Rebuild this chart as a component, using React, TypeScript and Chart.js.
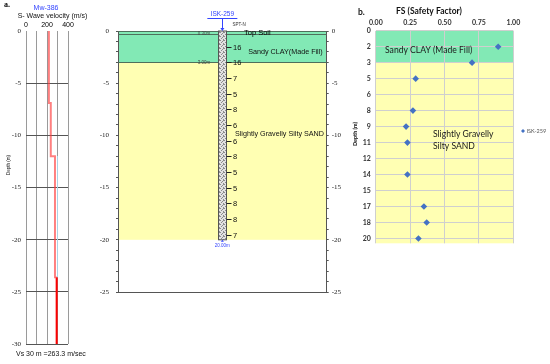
import React, { useEffect, useRef } from 'react';
import { Chart, registerables } from 'chart.js';

Chart.register(...registerables);

// ---------- Panel a: shear-wave velocity profile (Mw-386)
const vsWellName = 'Mw-386';
const vsAxisTitle = 'S- Wave velocity (m/s)';
const vsDepthTitle = 'Depth (m)';
const vs30Label = 'Vs 30 m =263.3 m/sec';
const vsLayerTop = [0, -6.9, -12.0, -23.6];
const vsLayerBottom = [-6.9, -12.0, -23.6, -30];
const vsLayerValue = [218, 236, 276, 292];
const vsAltTop = [-12.0];
const vsAltBottom = [-23.6];
const vsAltValue = [300];
const vsAxisLabels = [0, 200, 400];

// ---------- Borehole log ISK-259
const boreholeName = 'ISK-259';
const boreholeDepth = 20;
const logLayerName = ['Top Soil', 'Sandy CLAY(Made Fill)', 'Slightly Gravelly Silty SAND'];
const logLayerTop = [0, 0.3, 3.0];
const logLayerBottom = [0.3, 3.0, 20.0];
const logLayerLabelDepth = [0.2, 2.0, 9.9];
const logBoundaryLabels = ['0.30m', '3.00m'];
const logBoundaryDepth = [0.3, 3.0];
const sptDepth = [1.5, 3, 4.5, 6, 7.5, 9, 10.5, 12, 13.5, 15, 16.5, 18, 19.5];
const sptN = [16, 16, 7, 5, 8, 6, 6, 8, 5, 5, 8, 8, 7];

// ---------- Panel b: factor of safety
const fsTitle = 'FS (Safety Factor)';
const fsDepthTitle = 'Depth (m)';
const fsSeriesName = 'ISK-259';
const fsDepthLabels = ['0', '2', '3', '5', '6', '8', '9', '11', '12', '14', '15', '17', '18', '20'];
const fsValues = [null, 0.89, 0.7, 0.29, null, 0.27, 0.22, 0.23, null, 0.23, null, 0.35, 0.37, 0.31];
const fsLayerLines = [['Sandy CLAY (Made Fill)'], ['Slightly Gravelly', 'Silty SAND']];
const fsLayerTop = ['0', '3'];
const fsLayerBottom = ['3', null];

// ---------- styles
const GREEN = '#82E9B5';
const YELLOW = '#FFFFB3';
const SANS = '"Liberation Sans", Arial, sans-serif';
const SERIF = '"Liberation Serif", "Times New Roman", serif';
const CAL = 'Lato, "Open Sans", sans-serif';
const BLUE = '#3344ff';

function stepPoints(tops: number[], bottoms: number[], vals: number[], from: number, to: number) {
  const pts: { x: number; y: number }[] = [];
  for (let i = from; i < to; i++) {
    pts.push({ x: vals[i], y: tops[i] });
    pts.push({ x: vals[i], y: bottoms[i] });
  }
  return pts;
}

function makePattern(ctx: CanvasRenderingContext2D) {
  const c = document.createElement('canvas');
  c.width = 4;
  c.height = 4;
  const g = c.getContext('2d')!;
  g.fillStyle = '#e2e2e2';
  g.fillRect(0, 0, 4, 4);
  g.fillStyle = '#8c8c8c';
  [[0, 0], [2, 1], [1, 2], [3, 3], [3, 0]].forEach(([x, y]) => g.fillRect(x, y, 1, 1));
  return ctx.createPattern(c, 'repeat');
}

export default function App() {
  const refA = useRef<HTMLCanvasElement>(null);
  const refB = useRef<HTMLCanvasElement>(null);
  const refC = useRef<HTMLCanvasElement>(null);

  useEffect(() => {
    // ---------------- Chart A
    const upper = stepPoints(vsLayerTop, vsLayerBottom, vsLayerValue, 0, 3);
    upper.push({ x: vsLayerValue[3], y: vsLayerTop[3] });
    const lower = stepPoints(vsLayerTop, vsLayerBottom, vsLayerValue, 3, 4);
    const alt = stepPoints(vsAltTop, vsAltBottom, vsAltValue, 0, 1);

    const textA = {
      id: 'textA',
      afterDraw(chart: any) {
        const ctx = chart.ctx as CanvasRenderingContext2D;
        ctx.save();
        ctx.fillStyle = '#000';
        ctx.textBaseline = 'alphabetic';
        ctx.textAlign = 'left';
        ctx.font = `bold 8px ${SERIF}`;
        ctx.fillText('a.', 4, 7);
        ctx.textBaseline = 'middle';
        ctx.textAlign = 'center';
        ctx.fillStyle = BLUE;
        ctx.font = `7px ${SANS}`;
        ctx.fillText(vsWellName, 46, 8.5);
        ctx.fillStyle = '#111';
        ctx.fillText(vsAxisTitle, 52.5, 16);
        ctx.textAlign = 'left';
        ctx.fillText(vs30Label, 16, 354);
        ctx.translate(9, 165);
        ctx.rotate(-Math.PI / 2);
        ctx.textAlign = 'center';
        ctx.font = `4.5px ${SANS}`;
        ctx.fillText(vsDepthTitle, 0, 0);
        ctx.restore();
      },
    };

    const chartA = new Chart(refA.current!, {
      type: 'scatter',
      data: {
        datasets: [
          { data: upper, showLine: true, borderColor: 'rgba(255,60,60,0.65)', borderWidth: 2, pointRadius: 0 },
          { data: lower, showLine: true, borderColor: '#ff0000', borderWidth: 2, pointRadius: 0 },
          { data: alt, showLine: true, borderColor: '#a9d4e6', borderWidth: 1, pointRadius: 0 },
        ],
      },
      options: {
        responsive: false,
        animation: false,
        devicePixelRatio: 1,
        layout: { padding: { left: 0, right: 32, top: 0, bottom: 20 } },
        plugins: { legend: { display: false }, tooltip: { enabled: false } },
        scales: {
          x: {
            type: 'linear',
            position: 'top',
            min: 0,
            max: 400,
            afterFit: (s: any) => { s.height = 31; },
            ticks: {
              stepSize: 100,
              autoSkip: false,
              maxRotation: 0,
              padding: 2,
              font: { family: SANS, size: 7 },
              color: '#000',
              callback: (v: any) => (vsAxisLabels.includes(Number(v)) ? String(v) : ''),
            },
            grid: { color: '#9a9a9a', drawTicks: false },
            border: { display: false },
          },
          y: {
            type: 'linear',
            min: -30,
            max: 0,
            afterFit: (s: any) => { s.width = 26; },
            ticks: { stepSize: 5, padding: 5, font: { family: SERIF, size: 7 }, color: '#222' },
            grid: {
              color: (c: any) => (c.tick && c.tick.value === 0 ? 'rgba(0,0,0,0)' : '#555'),
              drawTicks: false,
            },
            border: { display: false },
          },
        },
      } as any,
      plugins: [textA],
    });

    // ---------------- Chart B (borehole log)
    const logB = {
      id: 'logB',
      beforeDraw(chart: any) {
        const ctx = chart.ctx as CanvasRenderingContext2D;
        const y = chart.scales.y;
        const a = chart.chartArea;
        ctx.save();
        logLayerTop.forEach((t, i) => {
          const y0 = y.getPixelForValue(-t);
          const y1 = y.getPixelForValue(-logLayerBottom[i]);
          ctx.fillStyle = i < 2 ? GREEN : YELLOW;
          ctx.fillRect(a.left, y0, a.right - a.left, y1 - y0);
        });
        ctx.restore();
      },
      afterDraw(chart: any) {
        const ctx = chart.ctx as CanvasRenderingContext2D;
        const y = chart.scales.y;
        const x = chart.scales.x;
        const a = chart.chartArea;
        ctx.save();
        // layer boundary lines
        ctx.strokeStyle = '#4f6f5c';
        ctx.lineWidth = 1;
        logLayerTop.forEach((t) => {
          const yy = Math.round(y.getPixelForValue(-t)) + 0.5;
          ctx.beginPath();
          ctx.moveTo(a.left, yy);
          ctx.lineTo(a.right, yy);
          ctx.stroke();
        });
        // bottom frame line
        ctx.strokeStyle = '#555';
        const yb = Math.round(a.bottom) + 0.5;
        ctx.beginPath();
        ctx.moveTo(a.left, yb);
        ctx.lineTo(a.right, yb);
        ctx.stroke();

        // borehole column
        const cl = x.getPixelForValue(0.48);
        const cr = x.getPixelForValue(0.52);
        const cc = (cl + cr) / 2;
        const ct = y.getPixelForValue(0);
        const cb = y.getPixelForValue(-boreholeDepth);
        ctx.fillStyle = makePattern(ctx) as any;
        ctx.fillRect(cl, ct, cr - cl, cb - ct);
        ctx.strokeStyle = '#555';
        ctx.strokeRect(Math.round(cl) + 0.5, ct, Math.round(cr - cl), cb - ct);

        // boundary depth labels
        ctx.fillStyle = '#444';
        ctx.font = `4.5px ${SANS}`;
        ctx.textAlign = 'right';
        ctx.textBaseline = 'middle';
        logBoundaryLabels.forEach((lab, i) => {
          ctx.fillText(lab, cl - 8, y.getPixelForValue(-logBoundaryDepth[i]));
        });

        // SPT-N values
        ctx.strokeStyle = '#222';
        ctx.fillStyle = '#111';
        ctx.font = `7.5px ${SANS}`;
        ctx.textAlign = 'left';
        sptDepth.forEach((d, i) => {
          const yy = Math.round(y.getPixelForValue(-d)) + 0.5;
          ctx.beginPath();
          ctx.moveTo(cr, yy);
          ctx.lineTo(cr + 5, yy);
          ctx.stroke();
          ctx.fillText(String(sptN[i]), cr + 6.5, yy);
        });

        // layer names
        ctx.fillStyle = '#000';
        ctx.font = `7.5px ${SANS}`;
        ctx.fillText(logLayerName[0], cr + 17.5, y.getPixelForValue(-logLayerLabelDepth[0]));
        ctx.fillStyle = '#111';
        ctx.font = `7.2px ${SANS}`;
        ctx.textAlign = 'right';
        ctx.fillText(logLayerName[1], a.right - 4, y.getPixelForValue(-logLayerLabelDepth[1]));
        ctx.fillText(logLayerName[2], a.right - 2.7, y.getPixelForValue(-logLayerLabelDepth[2]));

        // header
        ctx.fillStyle = '#333';
        ctx.font = `4.5px ${SANS}`;
        ctx.textAlign = 'left';
        ctx.fillText('SPT-N', cr + 6, 25);
        ctx.fillStyle = BLUE;
        ctx.strokeStyle = BLUE;
        ctx.font = `6.5px ${SANS}`;
        ctx.textAlign = 'center';
        ctx.fillText(boreholeName, cc, 14.5);
        ctx.beginPath();
        ctx.moveTo(cc - 15, 18.5);
        ctx.lineTo(cc + 15, 18.5);
        ctx.moveTo(Math.round(cc) + 0.5, 18.5);
        ctx.lineTo(Math.round(cc) + 0.5, ct - 1);
        ctx.stroke();
        ctx.beginPath();
        ctx.moveTo(cc - 2, ct - 3);
        ctx.lineTo(cc + 2, ct - 3);
        ctx.lineTo(cc, ct);
        ctx.closePath();
        ctx.fill();
        // bottom marker
        ctx.beginPath();
        ctx.moveTo(cc - 1.5, cb + 2);
        ctx.lineTo(cc + 1.5, cb + 2);
        ctx.lineTo(cc, cb);
        ctx.closePath();
        ctx.fill();
        ctx.font = `4.5px ${SANS}`;
        ctx.fillText(boreholeDepth.toFixed(2) + 'm', cc, cb + 5.5);
        ctx.restore();
      },
    };

    const depthAxis = (pos: 'left' | 'right', w: number, pad: number) => ({
      type: 'linear',
      position: pos,
      min: -25,
      max: 0,
      afterFit: (s: any) => { s.width = w; },
      ticks: {
        stepSize: 1,
        autoSkip: false,
        padding: pad,
        font: { family: SERIF, size: 7 },
        color: '#222',
        callback: (v: any) => (Number(v) % 5 === 0 ? String(v) : ''),
      },
      grid: { drawOnChartArea: false, tickLength: 2, tickColor: '#555' },
      border: { color: '#555' },
    });

    const chartB = new Chart(refB.current!, {
      type: 'scatter',
      data: { datasets: [] },
      options: {
        responsive: false,
        animation: false,
        devicePixelRatio: 1,
        layout: { padding: { left: 0, right: 0, top: 31, bottom: 72 } },
        plugins: { legend: { display: false }, tooltip: { enabled: false } },
        scales: {
          x: { type: 'linear', min: 0, max: 1, display: false },
          y: depthAxis('left', 18, 7),
          y2: depthAxis('right', 23.3, 3),
        },
      } as any,
      plugins: [logB],
    });

    // ---------------- Chart C (FS)
    const idx = (lab: string | null, s: any) => (lab == null ? s.max : fsDepthLabels.indexOf(lab));
    const fsC = {
      id: 'fsC',
      beforeDraw(chart: any) {
        const ctx = chart.ctx as CanvasRenderingContext2D;
        const y = chart.scales.y;
        const a = chart.chartArea;
        ctx.save();
        fsLayerTop.forEach((t, i) => {
          const y0 = y.getPixelForValue(idx(t, y));
          const y1 = y.getPixelForValue(idx(fsLayerBottom[i], y));
          ctx.fillStyle = i === 0 ? GREEN : YELLOW;
          ctx.fillRect(a.left, y0, a.right - a.left, y1 - y0);
        });
        ctx.restore();
      },
      afterDraw(chart: any) {
        const ctx = chart.ctx as CanvasRenderingContext2D;
        const y = chart.scales.y;
        const x = chart.scales.x;
        ctx.save();
        ctx.fillStyle = '#1a1a1a';
        ctx.textBaseline = 'middle';
        ctx.textAlign = 'left';
        ctx.font = `8.6px ${CAL}`;
        ctx.fillText(fsLayerLines[0][0], x.getPixelForValue(0.067), y.getPixelForValue(1.2));
        fsLayerLines[1].forEach((ln, i) => {
          ctx.fillText(ln, x.getPixelForValue(0.416), y.getPixelForValue(6.5 + i * 0.73));
        });
        // title
        ctx.fillStyle = '#111';
        ctx.font = `bold 8.5px ${CAL}`;
        ctx.textAlign = 'center';
        ctx.fillText(fsTitle, 79, 11);
        ctx.textAlign = 'left';
        ctx.font = `bold 8.5px ${CAL}`;
        ctx.fillText('b.', 8, 12);
        // legend
        const lx = 173;
        const ly = 131;
        ctx.fillStyle = '#4472C4';
        ctx.beginPath();
        ctx.moveTo(lx, ly - 2);
        ctx.lineTo(lx + 2, ly);
        ctx.lineTo(lx, ly + 2);
        ctx.lineTo(lx - 2, ly);
        ctx.closePath();
        ctx.fill();
        ctx.fillStyle = '#555';
        ctx.font = `5.5px ${CAL}`;
        ctx.fillText(fsSeriesName, lx + 3.5, ly);
        // y title
        ctx.fillStyle = '#111';
        ctx.translate(5, 134);
        ctx.rotate(-Math.PI / 2);
        ctx.textAlign = 'center';
        ctx.font = `bold 5.5px ${CAL}`;
        ctx.fillText(fsDepthTitle, 0, 0);
        ctx.restore();
      },
    };

    const fsPoints = fsValues
      .map((v, i) => (v == null ? null : { x: v, y: i }))
      .filter((p) => p !== null) as { x: number; y: number }[];

    const chartC = new Chart(refC.current!, {
      type: 'scatter',
      data: {
        datasets: [
          {
            label: fsSeriesName,
            data: fsPoints,
            pointStyle: 'rectRot',
            pointRadius: 3.3,
            backgroundColor: '#4472C4',
            borderColor: '#4472C4',
            borderWidth: 0,
          },
        ],
      },
      options: {
        responsive: false,
        animation: false,
        devicePixelRatio: 1,
        layout: { padding: { left: 0, right: 36.7, top: 0, bottom: 120.7 } },
        plugins: { legend: { display: false }, tooltip: { enabled: false } },
        scales: {
          x: {
            type: 'linear',
            position: 'top',
            min: 0,
            max: 1,
            afterFit: (s: any) => { s.height = 30.7; },
            ticks: {
              stepSize: 0.25,
              padding: 4,
              maxRotation: 0,
              font: { family: CAL, size: 7, weight: 'bold' },
              color: '#333',
              callback: (v: any) => Number(v).toFixed(2),
            },
            grid: { color: '#cfcfcf', drawTicks: false },
            border: { display: false },
          },
          y: {
            type: 'linear',
            reverse: true,
            min: 0,
            max: 13.3,
            afterFit: (s: any) => { s.width = 25.8; },
            ticks: {
              stepSize: 1,
              autoSkip: false,
              includeBounds: false,
              padding: 5,
              font: { family: CAL, size: 7, weight: 'bold' },
              color: '#333',
              callback: (v: any) => fsDepthLabels[Number(v)] ?? '',
            },
            grid: { color: '#cfcfcf', drawTicks: false },
            border: { display: false },
          },
        },
      } as any,
      plugins: [fsC],
    });

    return () => {
      chartA.destroy();
      chartB.destroy();
      chartC.destroy();
    };
  }, []);

  return (
    <div style={{ position: 'absolute', left: 0, top: 0, width: 550, height: 364, background: '#fff' }}>
      <canvas ref={refA} width={100} height={364} style={{ position: 'absolute', left: 0, top: 0 }} />
      <canvas ref={refB} width={250} height={364} style={{ position: 'absolute', left: 100, top: 0 }} />
      <canvas ref={refC} width={200} height={364} style={{ position: 'absolute', left: 350, top: 0 }} />
    </div>
  );
}
